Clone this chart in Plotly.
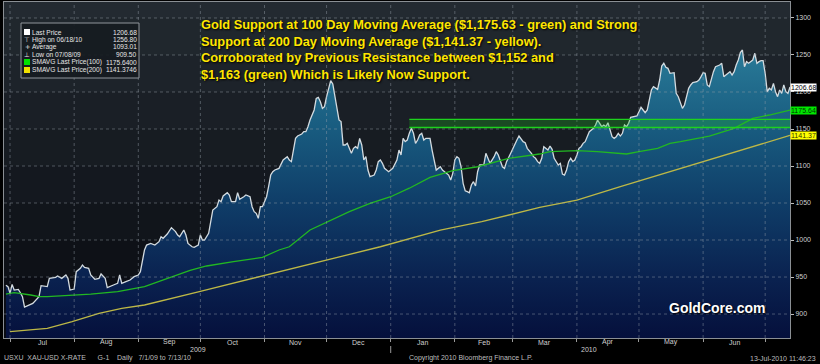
import datetime as dt
import plotly.graph_objects as go

# ---------------- data ----------------
price_dates = [
    "2009-06-29", "2009-06-30", "2009-07-01", "2009-07-02", "2009-07-03", "2009-07-05", "2009-07-06", "2009-07-07",
    "2009-07-08", "2009-07-10", "2009-07-12", "2009-07-15", "2009-07-16", "2009-07-19", "2009-07-20", "2009-07-23",
    "2009-07-24", "2009-07-26", "2009-07-28", "2009-07-29", "2009-07-30", "2009-08-01", "2009-08-02", "2009-08-04",
    "2009-08-05", "2009-08-06", "2009-08-08", "2009-08-09", "2009-08-11", "2009-08-13", "2009-08-14", "2009-08-16",
    "2009-08-17", "2009-08-20", "2009-08-22", "2009-08-23", "2009-08-24", "2009-08-26", "2009-08-28", "2009-08-30",
    "2009-09-01", "2009-09-02", "2009-09-03", "2009-09-04", "2009-09-05", "2009-09-07", "2009-09-09", "2009-09-11",
    "2009-09-12", "2009-09-13", "2009-09-15", "2009-09-17", "2009-09-19", "2009-09-20", "2009-09-21", "2009-09-23",
    "2009-09-24", "2009-09-25", "2009-09-27", "2009-09-28", "2009-09-30", "2009-10-01", "2009-10-02", "2009-10-03",
    "2009-10-05", "2009-10-06", "2009-10-07", "2009-10-09", "2009-10-10", "2009-10-11", "2009-10-12", "2009-10-14",
    "2009-10-15", "2009-10-16", "2009-10-18", "2009-10-19", "2009-10-20", "2009-10-22", "2009-10-23", "2009-10-25",
    "2009-10-26", "2009-10-27", "2009-10-28", "2009-10-29", "2009-10-30", "2009-10-31", "2009-11-02", "2009-11-03",
    "2009-11-04", "2009-11-05", "2009-11-06", "2009-11-08", "2009-11-09", "2009-11-10", "2009-11-12", "2009-11-13",
    "2009-11-14", "2009-11-15", "2009-11-16", "2009-11-17", "2009-11-19", "2009-11-20", "2009-11-21", "2009-11-22",
    "2009-11-23", "2009-11-25", "2009-11-26", "2009-11-27", "2009-11-28", "2009-11-29", "2009-11-30", "2009-12-01",
    "2009-12-02", "2009-12-03", "2009-12-04", "2009-12-05", "2009-12-06", "2009-12-07", "2009-12-08", "2009-12-09",
    "2009-12-10", "2009-12-11", "2009-12-12", "2009-12-13", "2009-12-14", "2009-12-15", "2009-12-16", "2009-12-17",
    "2009-12-18", "2009-12-19", "2009-12-20", "2009-12-21", "2009-12-22", "2009-12-24", "2009-12-25", "2009-12-26",
    "2009-12-27", "2009-12-28", "2009-12-29", "2009-12-31", "2010-01-01", "2010-01-02", "2010-01-04", "2010-01-05",
    "2010-01-06", "2010-01-07", "2010-01-08", "2010-01-09", "2010-01-10", "2010-01-11", "2010-01-12", "2010-01-13",
    "2010-01-14", "2010-01-15", "2010-01-16", "2010-01-17", "2010-01-18", "2010-01-20", "2010-01-21", "2010-01-22",
    "2010-01-23", "2010-01-24", "2010-01-25", "2010-01-26", "2010-01-27", "2010-01-29", "2010-01-30", "2010-01-31",
    "2010-02-01", "2010-02-02", "2010-02-03", "2010-02-04", "2010-02-05", "2010-02-06", "2010-02-07", "2010-02-08",
    "2010-02-09", "2010-02-10", "2010-02-11", "2010-02-12", "2010-02-13", "2010-02-15", "2010-02-16", "2010-02-17",
    "2010-02-18", "2010-02-20", "2010-02-21", "2010-02-22", "2010-02-23", "2010-02-24", "2010-02-25", "2010-02-26",
    "2010-02-28", "2010-03-01", "2010-03-03", "2010-03-04", "2010-03-05", "2010-03-06", "2010-03-07", "2010-03-08",
    "2010-03-10", "2010-03-11", "2010-03-12", "2010-03-13", "2010-03-14", "2010-03-15", "2010-03-16", "2010-03-17",
    "2010-03-18", "2010-03-19", "2010-03-20", "2010-03-21", "2010-03-22", "2010-03-23", "2010-03-24", "2010-03-25",
    "2010-03-26", "2010-03-27", "2010-03-28", "2010-03-29", "2010-03-30", "2010-03-31", "2010-04-01", "2010-04-02",
    "2010-04-03", "2010-04-04", "2010-04-05", "2010-04-06", "2010-04-07", "2010-04-09", "2010-04-10", "2010-04-11",
    "2010-04-12", "2010-04-13", "2010-04-14", "2010-04-15", "2010-04-16", "2010-04-17", "2010-04-18", "2010-04-19",
    "2010-04-20", "2010-04-21", "2010-04-22", "2010-04-23", "2010-04-24", "2010-04-25", "2010-04-26", "2010-04-27",
    "2010-04-28", "2010-04-30", "2010-05-01", "2010-05-02", "2010-05-03", "2010-05-04", "2010-05-05", "2010-05-06",
    "2010-05-07", "2010-05-08", "2010-05-09", "2010-05-10", "2010-05-11", "2010-05-12", "2010-05-13", "2010-05-14",
    "2010-05-15", "2010-05-16", "2010-05-18", "2010-05-19", "2010-05-20", "2010-05-21", "2010-05-22", "2010-05-23",
    "2010-05-24", "2010-05-25", "2010-05-26", "2010-05-27", "2010-05-29", "2010-05-30", "2010-05-31", "2010-06-01",
    "2010-06-02", "2010-06-03", "2010-06-04", "2010-06-05", "2010-06-06", "2010-06-07", "2010-06-08", "2010-06-09",
    "2010-06-10", "2010-06-11", "2010-06-12", "2010-06-13", "2010-06-14", "2010-06-15", "2010-06-16", "2010-06-17",
    "2010-06-18", "2010-06-19", "2010-06-20", "2010-06-21", "2010-06-22", "2010-06-23", "2010-06-24", "2010-06-25",
    "2010-06-26", "2010-06-27", "2010-06-28", "2010-06-29", "2010-06-30", "2010-07-01", "2010-07-02", "2010-07-03",
    "2010-07-04", "2010-07-05", "2010-07-06", "2010-07-07", "2010-07-08", "2010-07-09", "2010-07-10", "2010-07-11",
    "2010-07-12", "2010-07-13",
]
price_values = [
    939, 937, 928, 940, 932.4, 933.3, 928.8, 923.4,
    909.5, 912.2, 914.4, 923.4, 938.3, 937, 948.2, 949.6,
    951.4, 948.2, 952.7, 948.2, 932.4, 933.8, 957.2, 961.7,
    966.2, 963.1, 961.7, 952.7, 946.9, 948.2, 954.1, 948.2,
    935.6, 939.2, 941.5, 952.7, 941.5, 943.7, 945.9, 950.5,
    952.7, 957.2, 970.7, 986.5, 993.2, 995.4, 993.2, 997.7,
    1004.5, 1002.3, 1008.1, 1016.7, 1011.3, 1006.8, 1004.5, 1013.5,
    1006.8, 995.4, 990.9, 990.0, 993.2, 1006.8, 1000, 1000,
    1009, 1022.5, 1040.5, 1045, 1054, 1051.8, 1059.5, 1064,
    1060.8, 1051.8, 1051.8, 1064, 1055, 1058.5, 1060.8, 1058.5,
    1045, 1038.3, 1036, 1029.3, 1045, 1045, 1058.5, 1072.4,
    1087.8, 1092.3, 1094.6, 1096.8, 1103.6, 1108.1, 1112.6, 1108.1,
    1105.9, 1123.9, 1137.4, 1140.5, 1143.2, 1146.4, 1146.4, 1153.1,
    1162.2, 1175.7, 1191.4, 1192.8, 1186.9, 1177.9, 1180.1, 1193.7,
    1205, 1215.3, 1210.8, 1193.7, 1175.7, 1162.2, 1160, 1128.4,
    1128.4, 1130.6, 1123.9, 1117.2, 1123.9, 1126.1, 1123.9, 1137.4,
    1128.4, 1108.1, 1112.6, 1094.6, 1085.6, 1087.8, 1094.6, 1105.9,
    1108.1, 1103.6, 1096.8, 1092.3, 1094.6, 1096.8, 1108.1, 1121.6,
    1115, 1137.4, 1132.9, 1135.1, 1144.2, 1150.9, 1144.2, 1130.6,
    1135.1, 1141.9, 1144.2, 1135.1, 1137.4, 1137.4, 1121.6, 1105.9,
    1094.6, 1096.8, 1099, 1094.6, 1092.3, 1087.8, 1081.1, 1090.1,
    1108.1, 1112.6, 1110.4, 1099, 1076.6, 1066.6, 1065.3, 1063.9,
    1074.3, 1078.8, 1073, 1092.3, 1101.4, 1101.4, 1117.2, 1110.4,
    1103.6, 1112.6, 1119.4, 1114.9, 1108.1, 1099, 1096.8, 1105.9,
    1117.2, 1123.9, 1135.1, 1140.5, 1137.4, 1132.9, 1131.5, 1123.9,
    1117.2, 1112.6, 1110.4, 1105.9, 1103.6, 1110.4, 1126.1, 1123.9,
    1121.6, 1127, 1122.5, 1110.4, 1105.9, 1101.4, 1103.6, 1089.2,
    1087.8, 1094.6, 1105.9, 1110.4, 1105.9, 1108.1, 1114.9, 1123.9,
    1126.1, 1130.6, 1132.9, 1139.6, 1146.4, 1150.9, 1155.4, 1162.2,
    1157.7, 1153.1, 1155.4, 1153.1, 1158.5, 1148.6, 1139.6, 1137.4,
    1139.6, 1144.2, 1140.5, 1144.2, 1155.4, 1153.1, 1157.7, 1165.8,
    1166.7, 1167.6, 1173.4, 1179.3, 1175.7, 1172, 1175.7, 1189.2,
    1202.7, 1207.2, 1205, 1203.6, 1216.2, 1235, 1238.8, 1233.4,
    1232, 1225.3, 1226.1, 1198.2, 1193.7, 1186.9, 1177.9, 1182.4,
    1193.7, 1205, 1209.5, 1212.6, 1213.9, 1216.2, 1220.7, 1226.1,
    1225.3, 1209.5, 1207.2, 1218.5, 1227.5, 1234.2, 1235.1, 1236.5,
    1238.8, 1220.7, 1223, 1225.3, 1227.5, 1223, 1227.5, 1236.5,
    1243.2, 1253.2, 1256.8, 1234.2, 1241, 1238.8, 1241, 1243.2,
    1252.3, 1238.8, 1241, 1242.3, 1242.3, 1225.3, 1200.4, 1205,
    1202.7, 1211.7, 1200.4, 1193.7, 1202.7, 1198.2, 1209.5, 1200.4,
    1198.2, 1206.68,
]

sma100_dates = ["2009-06-29", "2009-07-03", "2009-07-11", "2009-07-15", "2009-07-19", "2009-07-31", "2009-08-09",
                "2009-08-22", "2009-08-30", "2009-09-04", "2009-09-26", "2009-10-04", "2009-10-17", "2009-10-31",
                "2009-11-08", "2009-11-13", "2009-11-23", "2009-12-03", "2009-12-12", "2009-12-22", "2010-01-01",
                "2010-01-10", "2010-01-20", "2010-01-31", "2010-02-12", "2010-02-27", "2010-03-14", "2010-03-19",
                "2010-04-01", "2010-04-11", "2010-04-20", "2010-04-25", "2010-05-01", "2010-05-10", "2010-05-16",
                "2010-05-21", "2010-06-04", "2010-06-16", "2010-06-25", "2010-07-03", "2010-07-13"]
sma100_values = [927, 929, 925.7, 923.4, 923.4, 925.2, 927,
                 930.2, 933.8, 937, 959, 964.9, 970.7, 976.6,
                 986.5, 990.9, 1013.5, 1027, 1038.3, 1049.5, 1058.5,
                 1070, 1084.7, 1093.7, 1099, 1110.4, 1116.2, 1119.4,
                 1120.8, 1119.4, 1117.2, 1116.2, 1119.4, 1123.9, 1130.6,
                 1132.9, 1140.5, 1150.9, 1164.4, 1168.9, 1175.64]

sma200_dates = ["2009-07-01", "2009-07-19", "2009-07-31", "2009-08-13", "2009-08-24", "2009-09-04", "2009-09-30",
                "2009-10-29", "2009-11-28", "2009-12-27", "2010-01-25", "2010-02-14", "2010-03-14", "2010-04-01",
                "2010-04-22", "2010-05-16", "2010-06-12", "2010-07-13"]
sma200_values = [876.3, 880.7, 889.6, 900.9, 907.7, 912.2, 930,
                 950, 970, 990.9, 1013.5, 1024.7, 1044.1, 1054,
                 1072, 1092.3, 1114.9, 1141.37]

y_ticks = [900, 950, 1000, 1050, 1100, 1150, 1200, 1250, 1300]
month_starts = ["2009-07-01", "2009-08-01", "2009-09-01", "2009-10-01", "2009-11-01", "2009-12-01",
                "2010-01-01", "2010-02-01", "2010-03-01", "2010-04-01", "2010-05-01", "2010-06-01", "2010-07-01"]
month_labels = ["Jul", "Aug", "Sep", "Oct", "Nov", "Dec", "Jan", "Feb", "Mar", "Apr", "May", "Jun"]
year_labels = ["2009", "2010"]
year_label_dates = ["2009-09-30", "2010-04-07"]

legend_labels = ["Last Price", "High on 06/18/10", "Average", "Low on 07/08/09",
                 "SMAVG Last Price(100)", "SMAVG Last Price(200)"]
legend_values = ["1206.68", "1256.80", "1093.01", "909.50", "1175.6400", "1141.3746"]

tag_values = [1206.68, 1175.64, 1141.37]
tag_texts = ["1206.68", "1175.64", "1141.37"]

resistance_low = 1152
resistance_high = 1163
resistance_start = "2010-01-10"

title_lines = ["Gold Support at 100 Day Moving Average ($1,175.63 - green) and Strong",
               "Support at 200 Day Moving Average ($1,141.37 - yellow).",
               "Corroborated by Previous Resistance between $1,152 and",
               "$1,163 (green) Which is Likely Now Support."]

# ---------------- layout geometry ----------------
W, H = 820, 364
ML, MR, MT, MB = 4, 30, 2, 26
PW, PH = W - ML - MR, H - MT - MB
Y_RANGE = [867.6, 1321.6]
X_RANGE = ["2009-06-28 02:00", "2010-07-13"]


def px_x(px):
    return (px - ML) / PW


def px_y(py):
    return (H - MB - py) / PH


def hex_to_rgb(h):
    h = h.lstrip("#")
    return tuple(int(h[i:i + 2], 16) for i in (0, 2, 4))


def mix(c1, c2, t):
    a, b = hex_to_rgb(c1), hex_to_rgb(c2)
    return "rgb(%d,%d,%d)" % tuple(round(a[i] + (b[i] - a[i]) * t) for i in range(3))


PRICE_COLOR = "#d3dbe0"
GREEN = "#22b822"
YELLOW = "#bdb846"

fig = go.Figure()

fig.add_trace(go.Scatter(
    x=price_dates, y=price_values, mode="lines",
    line=dict(color=PRICE_COLOR, width=1.3),
    fill="tozeroy",
    fillgradient=dict(
        type="vertical",
        colorscale=[[0.0, "#05103c"], [0.18, "#0a2250"], [0.40, "#0f3d68"],
                    [0.62, "#185b7f"], [0.84, "#287896"], [1.0, "#3a8aa5"]],
        start=Y_RANGE[0], stop=Y_RANGE[1]),
    hoverinfo="skip", showlegend=False,
))
fig.add_trace(go.Scatter(x=sma100_dates, y=sma100_values, mode="lines",
                         line=dict(color=GREEN, width=1.3), showlegend=False))
fig.add_trace(go.Scatter(x=sma200_dates, y=sma200_values, mode="lines",
                         line=dict(color=YELLOW, width=1.3), showlegend=False))

shapes = []
# background bands (Bloomberg style stepped gradient)
bounds = [Y_RANGE[0]] + y_ticks + [Y_RANGE[1]]
for i in range(len(bounds) - 1):
    t = (i + 0.5) / (len(bounds) - 1)
    shapes.append(dict(type="rect", xref="paper", yref="y", x0=0, x1=1, y0=bounds[i], y1=bounds[i + 1],
                       fillcolor=mix("#06080e", "#252c33", t), line=dict(width=0), layer="below"))
# dotted grid above the fill
for v in y_ticks:
    shapes.append(dict(type="line", xref="paper", yref="y", x0=0, x1=1, y0=v, y1=v,
                       line=dict(color="rgba(150,160,170,0.45)", width=1, dash="dot"), layer="above"))
for d in month_starts:
    shapes.append(dict(type="line", xref="x", yref="paper", x0=d, x1=d, y0=0, y1=1,
                       line=dict(color="rgba(150,160,170,0.45)", width=1, dash="dot"), layer="above"))
# resistance band
shapes.append(dict(type="rect", xref="x", yref="y", x0=resistance_start, x1=X_RANGE[1],
                   y0=resistance_low, y1=resistance_high,
                   fillcolor="rgba(30,190,30,0.28)", line=dict(width=0), layer="above"))
for v in (resistance_low, resistance_high):
    shapes.append(dict(type="line", xref="x", yref="y", x0=resistance_start, x1=X_RANGE[1], y0=v, y1=v,
                       line=dict(color="#1ed21e", width=1.3), layer="above"))
# year separator in the axis strip
shapes.append(dict(type="line", xref="x", yref="paper", x0=month_starts[6], x1=month_starts[6],
                   y0=px_y(346), y1=px_y(353), line=dict(color="#9a9a9a", width=1)))
# legend box
shapes.append(dict(type="rect", xref="paper", yref="paper", x0=px_x(21), x1=px_x(139),
                   y0=px_y(78), y1=px_y(23), fillcolor="rgba(22,27,33,0.92)",
                   line=dict(color="#8f959b", width=1), layer="above"))
row_y = [32, 39.5, 47, 54.5, 62, 70]
swatch = {0: "#ffffff", 4: "#00e000", 5: "#f0e000"}
for i, c in swatch.items():
    shapes.append(dict(type="rect", xref="paper", yref="paper", x0=px_x(24), x1=px_x(30),
                       y0=px_y(row_y[i] + 3), y1=px_y(row_y[i] - 3), fillcolor=c,
                       line=dict(width=0), layer="above"))

annotations = []
LEG_FONT = dict(family="Liberation Sans, Arial", size=6.6, color="#e6e6e6")
icons = {1: "⊤", 2: "+", 3: "⊥"}
for i, (lab, val) in enumerate(zip(legend_labels, legend_values)):
    annotations.append(dict(xref="paper", yref="paper", x=px_x(31), y=px_y(row_y[i]), text=lab,
                            showarrow=False, xanchor="left", yanchor="middle", font=LEG_FONT, borderpad=0))
    annotations.append(dict(xref="paper", yref="paper", x=px_x(137.5), y=px_y(row_y[i]), text=val,
                            showarrow=False, xanchor="right", yanchor="middle", font=LEG_FONT, borderpad=0))
    if i in icons:
        annotations.append(dict(xref="paper", yref="paper", x=px_x(27), y=px_y(row_y[i]), text=icons[i],
                                showarrow=False, xanchor="center", yanchor="middle", borderpad=0,
                                font=dict(family="DejaVu Sans", size=6.5, color="#e6e6e6")))

# month labels centred in each month (Bloomberg style)
for i, lab in enumerate(month_labels):
    a = dt.date.fromisoformat(month_starts[i])
    b = dt.date.fromisoformat(month_starts[i + 1])
    mid = dt.datetime.combine(a, dt.time()) + (b - a) / 2
    annotations.append(dict(xref="x", yref="paper", x=mid.isoformat(), y=px_y(342), xanchor="center",
                            yanchor="middle", showarrow=False, text=lab, borderpad=0,
                            font=dict(family="Liberation Sans, Arial", size=7, color="#cfcfcf")))

# headline text
annotations.append(dict(
    xref="paper", yref="paper", x=px_x(199), y=px_y(15), xanchor="left", yanchor="top",
    align="left", showarrow=False, text="<b>" + "<br>".join(title_lines) + "</b>",
    font=dict(family="Liberation Sans, Arial", size=12.8, color="#ffe600", shadow="1px 1px 2px #000"),
))
# watermark
annotations.append(dict(
    xref="paper", yref="paper", x=px_x(717), y=px_y(308), xanchor="center", yanchor="middle",
    showarrow=False, text="<b>GoldCore.com</b>",
    font=dict(family="Liberation Sans, Arial", size=14, color="#ffffff", shadow="1px 1px 2px #000"),
))
# right-edge value tags
tag_styles = [("#ffffff", "#000000"), ("#00e600", "#003300"), ("#ffff00", "#333300")]
for v, t, (bg, fc) in zip(tag_values, tag_texts, tag_styles):
    annotations.append(dict(xref="paper", yref="y", x=1.0, y=v, xanchor="left", yanchor="middle",
                            showarrow=False, text=t, bgcolor=bg, borderpad=0,
                            font=dict(family="Liberation Sans, Arial", size=7, color=fc)))
# year labels
for lab, d in zip(year_labels, year_label_dates):
    annotations.append(dict(xref="x", yref="paper", x=d, y=px_y(349), xanchor="center", yanchor="middle",
                            showarrow=False, text=lab, borderpad=0,
                            font=dict(family="Liberation Sans, Arial", size=7, color="#cfcfcf")))
# footer
FOOT = dict(family="Liberation Sans, Arial", size=7, color="#bdbdbd")
annotations.append(dict(xref="paper", yref="paper", x=px_x(2), y=px_y(358), xanchor="left", yanchor="middle",
                        showarrow=False, font=FOOT,
                        text="USXU  XAU-USD X-RATE      G-1    Daily   7/1/09 to 7/13/10"))
annotations.append(dict(xref="paper", yref="paper", x=px_x(407), y=px_y(358), xanchor="left", yanchor="middle",
                        showarrow=False, font=FOOT, text="Copyright 2010 Bloomberg Finance L.P."))
annotations.append(dict(xref="paper", yref="paper", x=px_x(818), y=px_y(358), xanchor="right", yanchor="middle",
                        showarrow=False, font=FOOT, text="13-Jul-2010 11:46:23"))

fig.update_layout(
    width=W, height=H,
    margin=dict(l=ML, r=MR, t=MT, b=MB, pad=0),
    paper_bgcolor="#000000", plot_bgcolor="#11151b",
    showlegend=False,
    xaxis=dict(type="date", range=X_RANGE, tickvals=month_starts, showticklabels=False,
               ticks="outside", ticklen=3, tickcolor="#9a9a9a",
               showgrid=False, zeroline=False, showline=True, linecolor="#8a8f94", linewidth=1,
               mirror=True, fixedrange=True),
    yaxis=dict(range=Y_RANGE, side="right", tickvals=y_ticks, ticks="outside", ticklen=3,
               tickcolor="#bdbdbd", tickfont=dict(family="Liberation Sans, Arial", size=7, color="#cfcfcf"),
               showgrid=False, zeroline=False, showline=True, linecolor="#8a8f94", linewidth=1,
               mirror=True, fixedrange=True),
    shapes=shapes,
    annotations=annotations,
)

fig.write_html("out.html", config={"displayModeBar": False},
               post_script="document.body.style.margin='0';document.body.style.overflow='hidden';")
